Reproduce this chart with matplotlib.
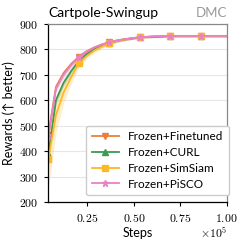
"""Cartpole-Swingup reward curves, frozen encoder variants."""

import matplotlib

matplotlib.use("Agg")
import matplotlib.pyplot as plt
import numpy as np
from matplotlib.ticker import FuncFormatter

plt.rcParams["mathtext.fontset"] = "cm"
plt.rcParams["font.family"] = ["Lato", "DejaVu Sans"]

# evaluation steps (x 1e5)
steps = np.array([0.040, 0.081, 0.122, 0.163, 0.204, 0.245, 0.286, 0.327, 0.368,
                  0.409, 0.450, 0.491, 0.532, 0.573, 0.614, 0.655, 0.696, 0.737,
                  0.778, 0.819, 0.860, 0.901, 0.942, 0.983, 1.024]) * 1e5

finetuned = np.array([462, 652, 706, 742, 770, 791, 806, 818, 827, 834, 839, 843, 846,
                      848, 850, 851, 851, 852, 852, 852, 852, 852, 852, 852, 852])
curl = np.array([387, 600, 668, 714, 754, 780, 799, 813, 824, 832, 838, 842, 846,
                 848, 849, 850, 851, 851, 851, 851, 851, 851, 851, 851, 851])
simsiam = np.array([367, 542, 630, 690, 744, 772, 794, 810, 823, 832, 838, 843, 847,
                    849, 851, 851, 852, 852, 852, 852, 852, 852, 852, 852, 852])
pisco = np.array([465, 645, 700, 738, 768, 790, 806, 818, 827, 834, 839, 843, 846,
                  848, 850, 851, 852, 852, 852, 852, 852, 852, 852, 852, 852])

finetuned_sd = np.array([15, 14, 12, 10, 9, 8, 7, 6, 6, 5, 5, 4, 4, 4, 4, 4, 4, 4, 4, 4, 4, 4, 4, 4, 4])
curl_sd = np.array([20, 18, 14, 12, 10, 8, 7, 6, 6, 5, 5, 4, 4, 4, 4, 4, 4, 4, 4, 4, 4, 4, 4, 4, 4])
simsiam_sd = np.array([112, 70, 40, 25, 16, 12, 9, 8, 7, 6, 5, 5, 4, 4, 4, 4, 4, 4, 4, 4, 4, 4, 4, 4, 4])
pisco_sd = np.array([15, 14, 12, 10, 9, 8, 7, 6, 6, 5, 5, 4, 4, 4, 4, 4, 4, 4, 4, 4, 4, 4, 4, 4, 4])

labels = ["Frozen+Finetuned", "Frozen+CURL", "Frozen+SimSiam", "Frozen+PiSCO"]
means = [finetuned, curl, simsiam, pisco]
sds = [finetuned_sd, curl_sd, simsiam_sd, pisco_sd]
colors = ["#e8803a", "#3d9a50", "#fdb827", "#ea80c8"]
markers = ["v", "^", "s", "*"]
msizes = [5, 5, 5, 5]

fig = plt.figure(figsize=(2.43, 2.44), dpi=100)
ax = fig.add_axes([0.199, 0.172, 0.734, 0.731])

for m, sd, c, mk, ms, lab in zip(means, sds, colors, markers, msizes, labels):
    ax.fill_between(steps, m - sd, m + sd, color=c, alpha=0.25, linewidth=0)
    ax.plot(steps, m, color=c, marker=mk, markersize=ms, markevery=4,
            linewidth=1.3, label=lab)

ax.set_xlim(0.04e5, 1.0e5)
ax.set_ylim(200, 900)
ax.set_xticks([0.25e5, 0.5e5, 0.75e5, 1.0e5])
ax.set_yticks([200, 300, 400, 500, 600, 700, 800, 900])
ax.xaxis.set_major_formatter(FuncFormatter(lambda v, p: r"$%.2f$" % (v / 1e5)))
ax.yaxis.set_major_formatter(FuncFormatter(lambda v, p: r"$%d$" % v))
ax.tick_params(labelsize=8.5, length=3, width=0.8, pad=4)
ax.text(1.0, -0.135, r"$\times10^5$", transform=ax.transAxes, ha="right", va="top", fontsize=8.5)

ax.grid(axis="y", color="#e6e6e6", linewidth=0.8)
ax.set_axisbelow(True)
ax.spines["top"].set_color("#888888")
ax.spines["right"].set_color("#888888")
for s in ax.spines.values():
    s.set_linewidth(0.9)

ax.set_xlabel("Steps", fontsize=9, labelpad=2)
ax.set_ylabel("Rewards (\u2191 better)", fontsize=9, labelpad=3)
ax.set_title("Cartpole-Swingup", loc="left", fontsize=10, pad=5)
ax.set_title("DMC", loc="right", fontsize=9.5, color="#999999", pad=5)

ax.legend(loc="lower right", bbox_to_anchor=(1.013, 0.04), borderaxespad=0,
          fontsize=8.5, numpoints=1, handlelength=2.3, framealpha=1,
          edgecolor="#cccccc", labelspacing=0.4, borderpad=0.45)

fig.savefig("out.png", dpi=100)
